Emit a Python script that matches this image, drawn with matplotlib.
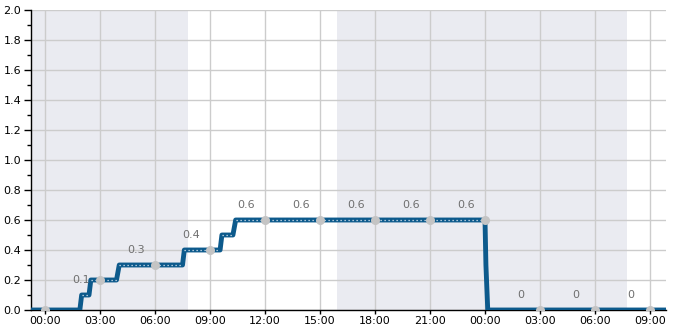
import numpy as np
import matplotlib
matplotlib.use("Agg")
import matplotlib.pyplot as plt

# hours counted from 00:00 of the first day
step_hours = [-0.8, 1.9, 2.0, 2.4, 2.5, 3.9, 4.05, 7.5, 7.6, 9.55, 9.65,
              10.25, 10.4, 24.0, 24.05, 24.15, 33.9]
step_values = [0.0, 0.0, 0.1, 0.1, 0.2, 0.2, 0.3, 0.3, 0.4, 0.4, 0.5,
               0.5, 0.6, 0.6, 0.3, 0.0, 0.0]

marker_hours = [0, 3, 6, 9, 12, 15, 18, 21, 24, 27, 30, 33]
marker_values = [0.0, 0.2, 0.3, 0.4, 0.6, 0.6, 0.6, 0.6, 0.6, 0.0, 0.0, 0.0]
label_values = [None, 0.1, 0.3, 0.4, 0.6, 0.6, 0.6, 0.6, 0.6, 0, 0, 0]

shade_spans = [(-0.8, 7.8), (15.95, 31.75)]

tick_hours = [0, 3, 6, 9, 12, 15, 18, 21, 24, 27, 30, 33]
tick_labels = ["00:00", "03:00", "06:00", "09:00", "12:00", "15:00",
               "18:00", "21:00", "00:00", "03:00", "06:00", "09:00"]

line_color = "#0d5a8c"

fig = plt.figure(figsize=(6.85, 3.30), dpi=100)
ax = fig.add_axes([31 / 685, 20 / 330, 635 / 685, 300 / 330])

for start, end in shade_spans:
    ax.axvspan(start, end, color="#eaebf1", lw=0, zorder=0)

ax.grid(True, color="#cccccc", lw=1, zorder=1)
ax.set_axisbelow(True)

ax.plot(step_hours, step_values, color=line_color, lw=3.5,
        solid_capstyle="butt", zorder=3)

# light dotted core on the non-zero flat parts only
for i in range(len(step_hours) - 1):
    v0, v1 = step_values[i], step_values[i + 1]
    if v0 == v1 and v0 > 0:
        ax.plot(step_hours[i:i + 2], step_values[i:i + 2], color="#dbe7f1",
                lw=0.9, linestyle=(0, (1, 2.2)), zorder=4)

ax.plot(marker_hours, marker_values, "o", color="#c4c4c4", ms=6.5,
        markeredgewidth=0, zorder=5)

for h, v in zip(marker_hours, label_values):
    if v is None:
        continue
    ax.annotate(f"{v:g}", (h, v), xytext=(-19, 15),
                textcoords="offset pixels", ha="center", va="center",
                fontsize=8, color="#6f6f6f", zorder=6)

ax.set_xlim(-14 * 3 / 55, 621 * 3 / 55)
ax.set_ylim(0, 2.0)
ax.set_xticks(tick_hours)
ax.set_xticklabels(tick_labels)
ax.set_yticks(np.arange(0, 2.01, 0.2))
ax.set_yticklabels([f"{v:.1f}" for v in np.arange(0, 2.01, 0.2)])
ax.set_yticks(np.arange(0.1, 2.0, 0.2), minor=True)

for side in ["top", "right"]:
    ax.spines[side].set_visible(False)
ax.spines["left"].set_linewidth(1)
ax.spines["bottom"].set_linewidth(1)
ax.tick_params(axis="both", labelsize=8, colors="black")
ax.tick_params(axis="y", which="major", length=5, width=1, pad=2)
ax.tick_params(axis="y", which="minor", length=3, width=1)
ax.tick_params(axis="x", which="major", length=3, width=1, pad=1)

fig.savefig("out.png", dpi=100)
